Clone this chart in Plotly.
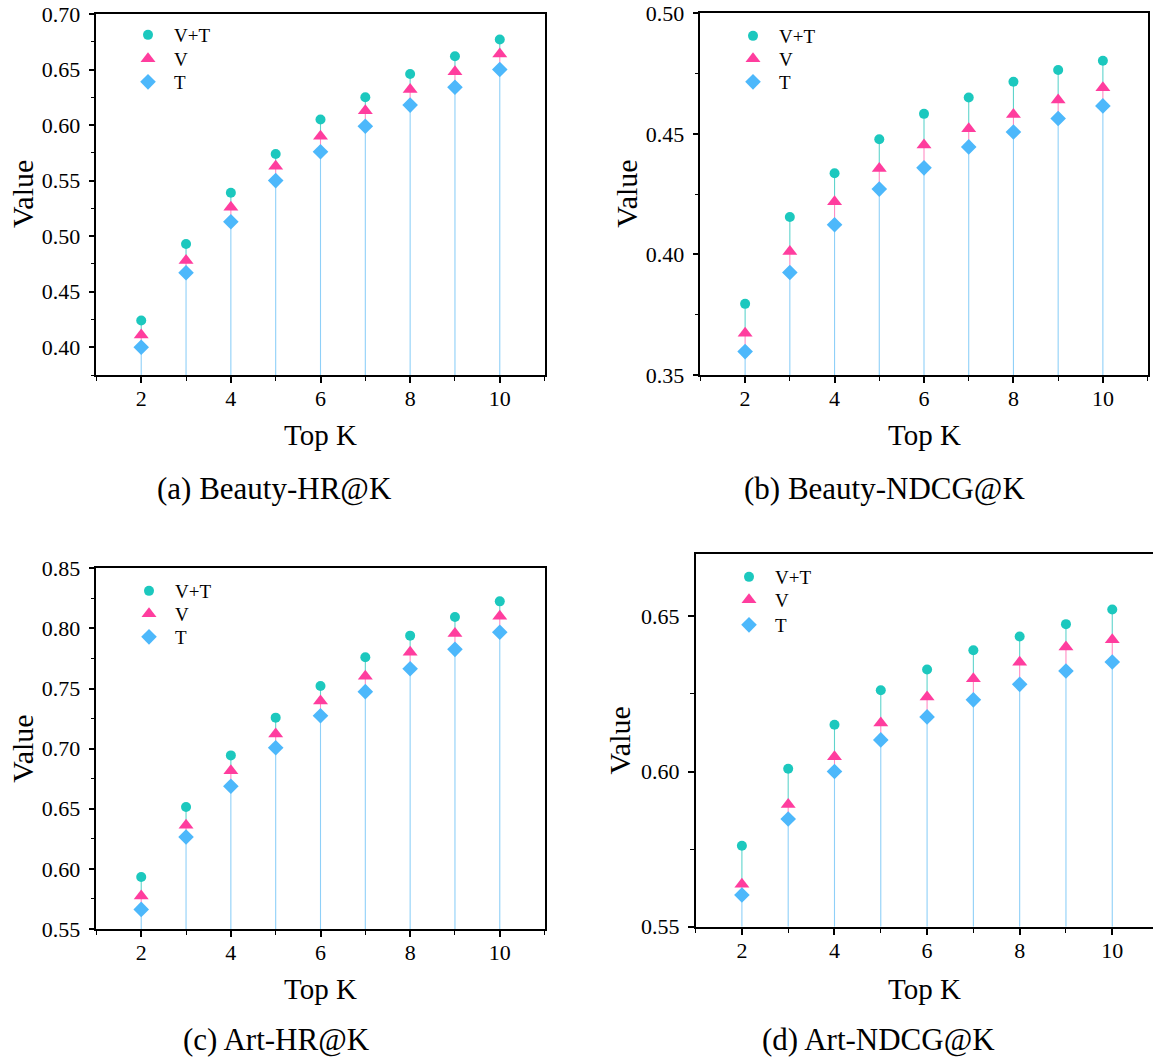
import plotly.graph_objects as go

# ---------------- data ----------------
K = [2, 3, 4, 5, 6, 7, 8, 9, 10]
series_names = ["V+T", "V", "T"]
xtick_vals = [2, 4, 6, 8, 10]

beauty_hr_vt = [0.424, 0.493, 0.539, 0.574, 0.605, 0.625, 0.646, 0.662, 0.677]
beauty_hr_v = [0.411, 0.478, 0.526, 0.563, 0.590, 0.613, 0.632, 0.648, 0.664]
beauty_hr_t = [0.400, 0.467, 0.513, 0.550, 0.576, 0.599, 0.618, 0.634, 0.650]

beauty_ndcg_vt = [0.3795, 0.4155, 0.4337, 0.4478, 0.4583, 0.4651, 0.4716, 0.4765, 0.4803]
beauty_ndcg_v = [0.3673, 0.4012, 0.4219, 0.4356, 0.4454, 0.4521, 0.4580, 0.4640, 0.4691]
beauty_ndcg_t = [0.3597, 0.3925, 0.4123, 0.4271, 0.4359, 0.4446, 0.4508, 0.4564, 0.4616]

art_hr_vt = [0.5932, 0.6515, 0.6944, 0.7258, 0.7521, 0.7760, 0.7940, 0.8095, 0.8225]
art_hr_v = [0.5774, 0.6362, 0.6817, 0.7122, 0.7397, 0.7602, 0.7801, 0.7957, 0.8101]
art_hr_t = [0.5663, 0.6265, 0.6687, 0.7008, 0.7274, 0.7474, 0.7665, 0.7826, 0.7968]

art_ndcg_vt = [0.5761, 0.6009, 0.6151, 0.6262, 0.6329, 0.6391, 0.6435, 0.6475, 0.6522]
art_ndcg_v = [0.5637, 0.5894, 0.6048, 0.6156, 0.6240, 0.6299, 0.6352, 0.6401, 0.6425]
art_ndcg_t = [0.5602, 0.5847, 0.6000, 0.6102, 0.6176, 0.6231, 0.6281, 0.6324, 0.6353]

captions = ["(a) Beauty-HR@K", "(b) Beauty-NDCG@K", "(c) Art-HR@K", "(d) Art-NDCG@K"]
x_title = "Top K"
y_title = "Value"

# ---------------- styling / layout ----------------
W, H = 1153, 1061
FONT = "Liberation Serif, Times New Roman, serif"
colors = ["#1cc8be", "#ff3d9e", "#4db8fb"]
stem_colors = ["#5fd4cc", "#ff8cc4", "#8fd0f8"]
symbols = ["circle", "triangle-up", "diamond"]
sizes = [10, 13, 12]


def px_x(v):
    return v / W


def px_y(v):
    return 1 - v / H


panels = [
    dict(data=[beauty_hr_vt, beauty_hr_v, beauty_hr_t], yr=[0.375, 0.70],
         xd=[96.4, 544.6], yd=[14, 375], xr=[1, 11], mirror_y=True,
         leg=(148, [35, 59, 82]), cap=(274, 489), tk=(320.5, 435), vt=22.5),
    dict(data=[beauty_ndcg_vt, beauty_ndcg_v, beauty_ndcg_t], yr=[0.35, 0.50],
         xd=[700.4, 1147.6], yd=[13.3, 375], xr=[1, 11], mirror_y=True,
         leg=(753, [36, 59, 82]), cap=(884, 489), tk=(924, 435), vt=626.5),
    dict(data=[art_hr_vt, art_hr_v, art_hr_t], yr=[0.55, 0.85],
         xd=[96.4, 544.6], yd=[568.3, 929], xr=[1, 11], mirror_y=True,
         leg=(149, [591, 614, 637]), cap=(276, 1039), tk=(320.5, 989), vt=23),
    dict(data=[art_ndcg_vt, art_ndcg_v, art_ndcg_t], yr=[0.55, 0.67],
         xd=[695.6, 1153], yd=[554.3, 926.7], xr=[1, 10.88], mirror_y=False,
         leg=(749, [577, 600, 625]), cap=(879, 1039), tk=(924, 989), vt=619),
]

fig = go.Figure()
layout = dict(
    width=W, height=H,
    margin=dict(l=0, r=0, t=0, b=0, autoexpand=False),
    paper_bgcolor="white", plot_bgcolor="white",
    font=dict(family=FONT, color="black"),
    showlegend=True,
)
annotations = []
leg_idx = 0

for i, p in enumerate(panels):
    n = "" if i == 0 else str(i + 1)
    xa, ya = "x" + n, "y" + n
    ylo = p["yr"][0]
    series = p["data"]
    lx, lys = p["leg"]
    for j, name in enumerate(series_names):
        yv = series[j]
        # stem reaches down to the next series below, the last one to the axis
        if j + 1 < len(series):
            lower = series[j + 1]
            minus = [a - b for a, b in zip(yv, lower)]
        else:
            minus = [v - ylo for v in yv]
        leg_idx += 1
        legname = "legend" if leg_idx == 1 else "legend%d" % leg_idx
        fig.add_trace(go.Scatter(
            x=K, y=yv, name=name, mode="markers",
            xaxis=xa, yaxis=ya, legend=legname,
            marker=dict(symbol=symbols[j], size=sizes[j], color=colors[j],
                        line=dict(width=0)),
            error_y=dict(type="data", symmetric=False,
                         array=[0] * len(yv), arrayminus=minus,
                         width=0, thickness=1.1, color=stem_colors[j]),
            cliponaxis=False,
        ))
        layout[legname] = dict(
            x=px_x(lx - 26), y=px_y(lys[j]), xanchor="left", yanchor="middle",
            bgcolor="rgba(0,0,0,0)", borderwidth=0, itemwidth=42,
            font=dict(size=19, family=FONT, color="black"),
            itemclick=False, itemdoubleclick=False,
        )
    layout["xaxis" + n] = dict(
        domain=[px_x(p["xd"][0]), px_x(p["xd"][1])],
        anchor=ya, range=p["xr"], automargin=False,
        tickmode="array", tickvals=xtick_vals,
        ticks="outside", ticklen=6, tickwidth=1.5, tickcolor="black",
        minor=dict(dtick=1, tick0=1, ticks="outside", ticklen=4,
                   tickwidth=1.2, tickcolor="black"),
        showline=True, linewidth=1.6, linecolor="black", mirror=True,
        showgrid=False, zeroline=False,
        tickfont=dict(size=22, family=FONT, color="black"),
        ticklabelstandoff=-3,
    )
    layout["yaxis" + n] = dict(
        domain=[px_y(p["yd"][1]), px_y(p["yd"][0])],
        anchor=xa, range=p["yr"], automargin=False,
        dtick=0.05, tick0=0, tickformat=".2f",
        ticks="outside", ticklen=6, tickwidth=1.5, tickcolor="black",
        minor=dict(dtick=0.025, tick0=0, ticks="outside", ticklen=4,
                   tickwidth=1.2, tickcolor="black"),
        showline=True, linewidth=1.6, linecolor="black",
        mirror=p["mirror_y"],
        showgrid=False, zeroline=False,
        tickfont=dict(size=22, family=FONT, color="black"),
        ticklabelstandoff=4,
    )
    ymid = (p["yd"][0] + p["yd"][1]) / 2
    annotations.append(dict(
        text=y_title, x=px_x(p["vt"]), y=px_y(ymid), textangle=-90,
        xref="paper", yref="paper", xanchor="center", yanchor="middle",
        showarrow=False, font=dict(size=30, family=FONT, color="black"),
    ))
    annotations.append(dict(
        text=x_title, x=px_x(p["tk"][0]), y=px_y(p["tk"][1]),
        xref="paper", yref="paper", xanchor="center", yanchor="middle",
        showarrow=False, font=dict(size=29, family=FONT, color="black"),
    ))
    annotations.append(dict(
        text=captions[i], x=px_x(p["cap"][0]), y=px_y(p["cap"][1]),
        xref="paper", yref="paper", xanchor="center", yanchor="middle",
        showarrow=False, font=dict(size=31, family=FONT, color="black"),
    ))

layout["annotations"] = annotations
fig.update_layout(**layout)

fig.write_html(
    "out.html",
    config={"displayModeBar": False},
    post_script="document.body.style.margin='0';document.body.style.overflow='hidden';",
)
